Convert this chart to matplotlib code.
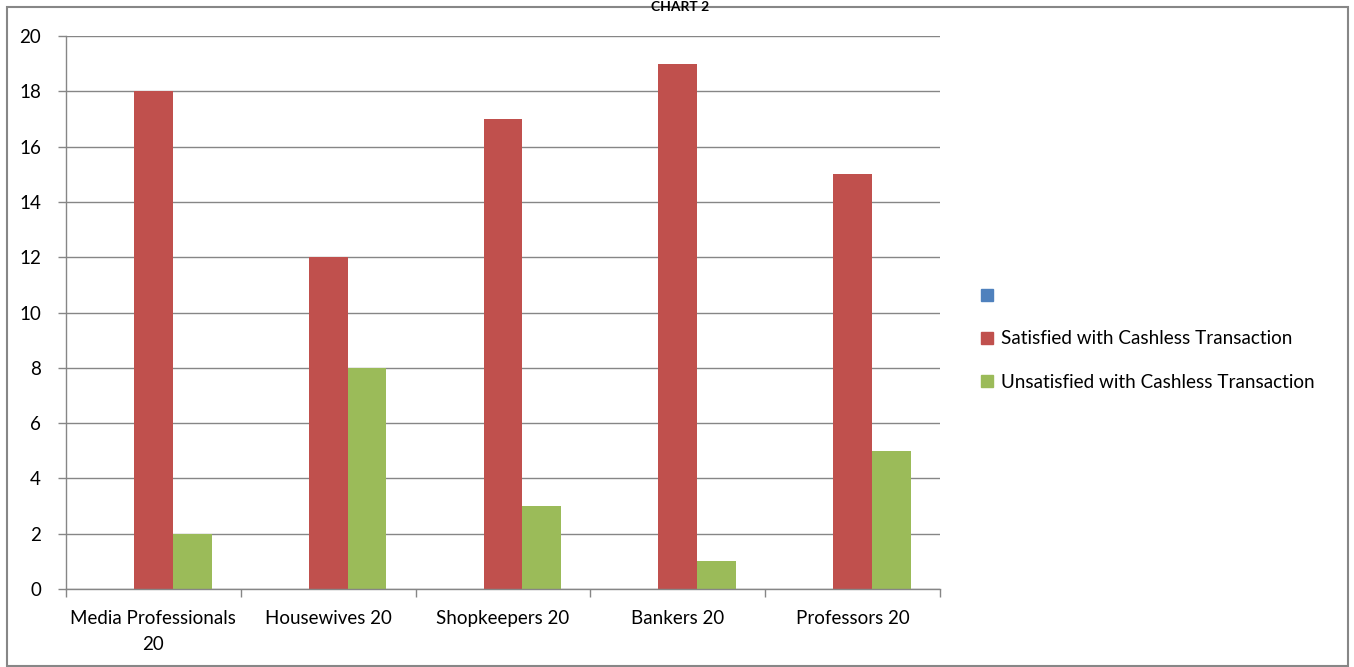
import matplotlib
matplotlib.use("Agg")
import matplotlib.pyplot as plt
import numpy as np
from matplotlib.patches import Rectangle

# data
categories = ["Media Professionals\n20", "Housewives 20", "Shopkeepers 20", "Bankers 20", "Professors 20"]
series1 = [0, 0, 0, 0, 0]          # empty first series (blue), shown only in legend
satisfied = [18, 12, 17, 19, 15]
unsatisfied = [2, 8, 3, 1, 5]

plt.rcParams['font.family'] = ['Lato', 'DejaVu Sans']

W, H = 1354, 667
fig = plt.figure(figsize=(W / 100, H / 100), dpi=100)
ax = fig.add_axes([66 / W, 1 - 589 / H, (940 - 66) / W, (589 - 36) / H])

blue, red, green = '#4F81BD', '#C0504D', '#9BBB59'
grid_c = '#868686'

x = np.arange(len(categories))
w = 1 / 4.5
ax.bar(x - w, series1, width=w, color=blue)
ax.bar(x, satisfied, width=w, color=red)
ax.bar(x + w, unsatisfied, width=w, color=green)

ax.set_xlim(-0.5, len(categories) - 0.5)
ax.set_ylim(0, 20)
ax.set_yticks(range(0, 21, 2))
ax.yaxis.grid(True, color=grid_c, linewidth=1)
ax.set_axisbelow(True)

# tick marks at category boundaries, labels at centres
ax.set_xticks(np.arange(-0.5, len(categories)), [''] * (len(categories) + 1))
ax.set_xticks(x, categories, minor=True)
for lab in ax.get_xticklabels(minor=True):
    lab.set_linespacing(1.65)
ax.tick_params(axis='x', which='major', length=6, color=grid_c, width=1)
ax.tick_params(axis='x', which='minor', length=0, pad=15, labelsize=13.5)
ax.tick_params(axis='y', length=6, color=grid_c, width=1, pad=12, labelsize=13.5)

for s in ['top', 'right']:
    ax.spines[s].set_visible(False)
for s in ['left', 'bottom']:
    ax.spines[s].set_color(grid_c)
    ax.spines[s].set_linewidth(1)

handles = [Rectangle((0, 0), 1, 1, color=c) for c in (blue, red, green)]
labels = [' ', 'Satisfied with Cashless Transaction', 'Unsatisfied with Cashless Transaction']
fig.legend(handles, labels, loc='center left', bbox_to_anchor=(972 / W, 1 - 339 / H),
           frameon=False, fontsize=13.6, handlelength=0.6, handleheight=0.6,
           handletextpad=0.45, labelspacing=1.38, borderpad=0)

# outer chart border
fig.patches.append(Rectangle((7 / W, 1 / H), (1348 - 7) / W, (659) / H,
                             transform=fig.transFigure, fill=False,
                             edgecolor='#878787', linewidth=1.5))

# title at the very top edge
fig.text(680 / W, 1 - 1 / H, 'CHART 2', ha='center', va='top',
         fontsize=10, fontweight='bold')

fig.savefig('out.png', dpi=100)
